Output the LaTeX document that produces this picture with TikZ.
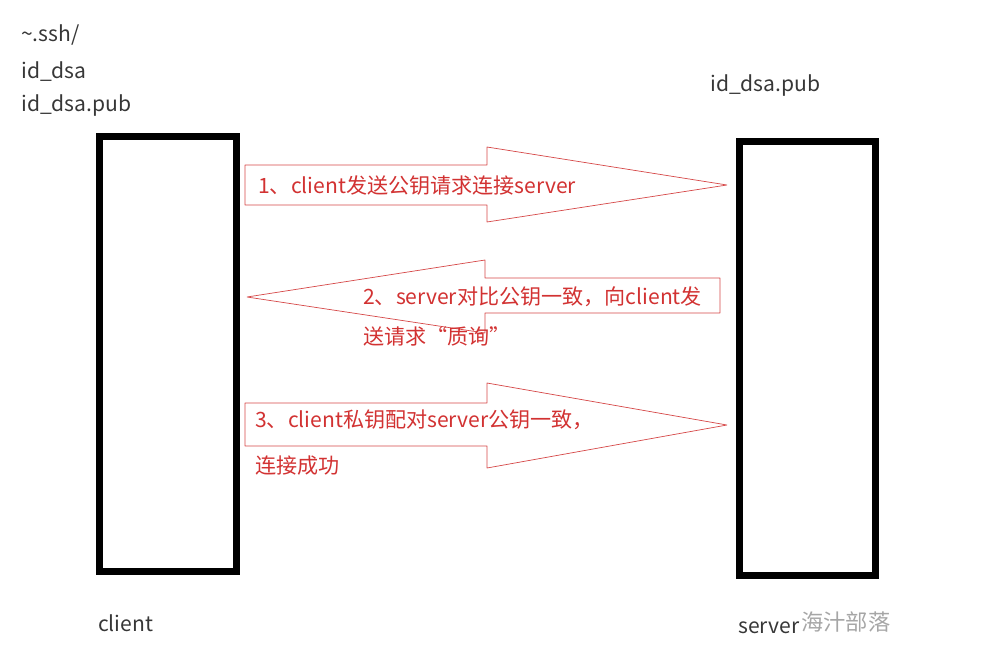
\documentclass[tikz,border=0pt]{standalone}
\usepackage{fontspec}
\setmainfont{Noto Sans CJK SC}
\usetikzlibrary{positioning, calc}

\definecolor{arrowred}{RGB}{214,72,72}
\definecolor{textred}{RGB}{210,50,50}
\definecolor{labelgray}{RGB}{55,55,55}

\begin{document}
\begin{tikzpicture}[x=0.03cm, y=-0.03cm,
  hostbox/.style={draw, line width=6pt, minimum width=4.1cm, minimum height=13.03cm},
  keyarrow/.style={draw=arrowred, line width=0.6pt, fill=white, line join=bevel},
  label/.style={anchor=west, inner sep=0pt, text=labelgray, font=\fontsize{18}{21}\selectfont},
  steptext/.style={anchor=base west, inner sep=0pt, align=left, text=textred},
]
\useasboundingbox (0,0) rectangle (993,669);

\node[hostbox] (client) at (168,354)   {};
\node[hostbox] (server) at (807.5,358.5) {};

\node[label] (sshdir)    at (21,35)  {\textasciitilde.ssh/};
\node[label] (privkey)   at (21,72)  {id\_dsa};
\node[label] (pubkey)    at (21,106) {id\_dsa.pub};
\node[label] (serverkey) at (710,86) {id\_dsa.pub};
\node[label] (clientname) at (98,623)  {client};
\node[label] (servername) at (738,628) {server};
\node[anchor=west, inner sep=0pt, text=black!35, font=\fontsize{19}{22}\selectfont]
  (mark) at (801,622) {海汁部落};

% block arrows
\draw[keyarrow] (245,165) -- (487,165) -- (487,147) -- (727,185) -- (487,222)
  -- (487,205) -- (245,205) -- cycle;
\draw[keyarrow] (247,297) -- (485,260) -- (485,278) -- (720,278) -- (720,313)
  -- (485,313) -- (485,333) -- cycle;
\draw[keyarrow] (245,403) -- (487,403) -- (487,383) -- (727,425) -- (487,468)
  -- (487,446) -- (245,446) -- cycle;

\node[steptext, font=\fontsize{18}{34}\selectfont] (step1) at (258,193)
  {1、client发送公钥请求连接server};
\node[steptext, font=\fontsize{18}{34}\selectfont] (step2) at (363,344)
  {2、server对比公钥一致，向client发\\送请求“质询”};
\node[steptext, font=\fontsize{18}{39}\selectfont] (step3) at (255,473)
  {3、client私钥配对server公钥一致，\\连接成功};
\end{tikzpicture}
\end{document}
